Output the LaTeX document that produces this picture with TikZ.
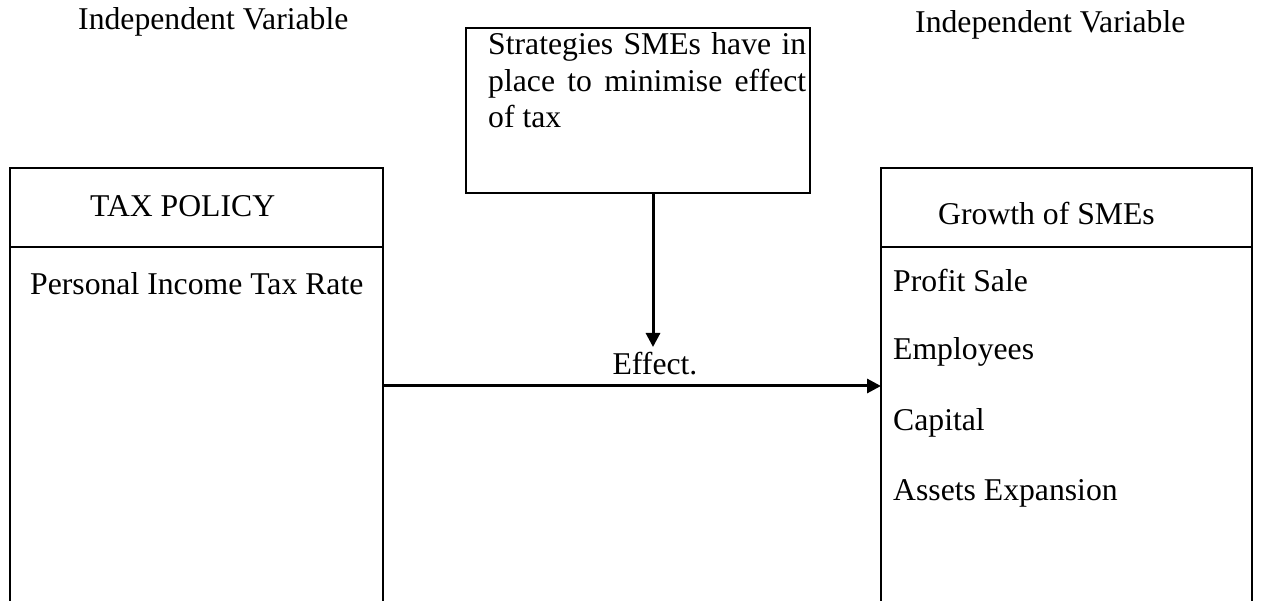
\documentclass[tikz,border=0pt]{standalone}
\usepackage{fontspec}
\setmainfont{Liberation Serif}
\usetikzlibrary{arrows.meta}
\begin{document}
\begin{tikzpicture}[x=1pt,y=-1pt,
  boxline/.style={draw=black,line width=1.8pt,inner sep=0pt,outer sep=0pt},
  txt/.style={anchor=base west,inner sep=0pt,font=\fontsize{31.7}{36.5}\selectfont},
  arr/.style={line width=3pt,-{Triangle[length=14pt,width=14pt]}}]
\useasboundingbox (0,0) rectangle (1261,601);
% titles
\node[txt] (tl) at (78,30) {Independent Variable};
\node[txt] (tr) at (915,33) {Independent Variable};
% boxes
\node[boxline,anchor=north west,minimum width=373pt,minimum height=460pt] (tax) at (10,168) {};
\node[boxline,anchor=north west,minimum width=371pt,minimum height=460pt] (growth) at (881,168) {};
\node[boxline,anchor=north west,minimum width=344pt,minimum height=165pt] (strat) at (466,28) {};
\coordinate (div) at (0,247);
\draw[line width=1.8pt] (tax.west |- div) -- (tax.east |- div);
\draw[line width=1.8pt] (growth.west |- div) -- (growth.east |- div);
% box texts
\node[txt] (s1) at (488,55) {\makebox[318pt][s]{Strategies SMEs have in}};
\node[txt] (s2) at (488,92) {\makebox[318pt][s]{place to minimise effect}};
\node[txt] (s3) at (488,128) {of tax};
\node[txt] (taxh) at (90,217) {TAX POLICY};
\node[txt] (taxi) at (30,295) {Personal Income Tax Rate};
\node[txt] (grh) at (938,225) {Growth of SMEs};
\node[txt] (g1) at (893,292) {Profit Sale};
\node[txt] (g2) at (893,360) {Employees};
\node[txt] (g3) at (893,430) {Capital};
\node[txt] (g4) at (893,500) {Assets Expansion};
\node[txt,anchor=base] (eff) at (655,375) {Effect.};
% connectors
\coordinate (tip) at (653,347);
\coordinate (effy) at (0,386);
\draw[arr] (strat.south -| tip) -- (tip);
\draw[arr] (tax.east |- effy) -- (growth.west |- effy);
\end{tikzpicture}
\end{document}
